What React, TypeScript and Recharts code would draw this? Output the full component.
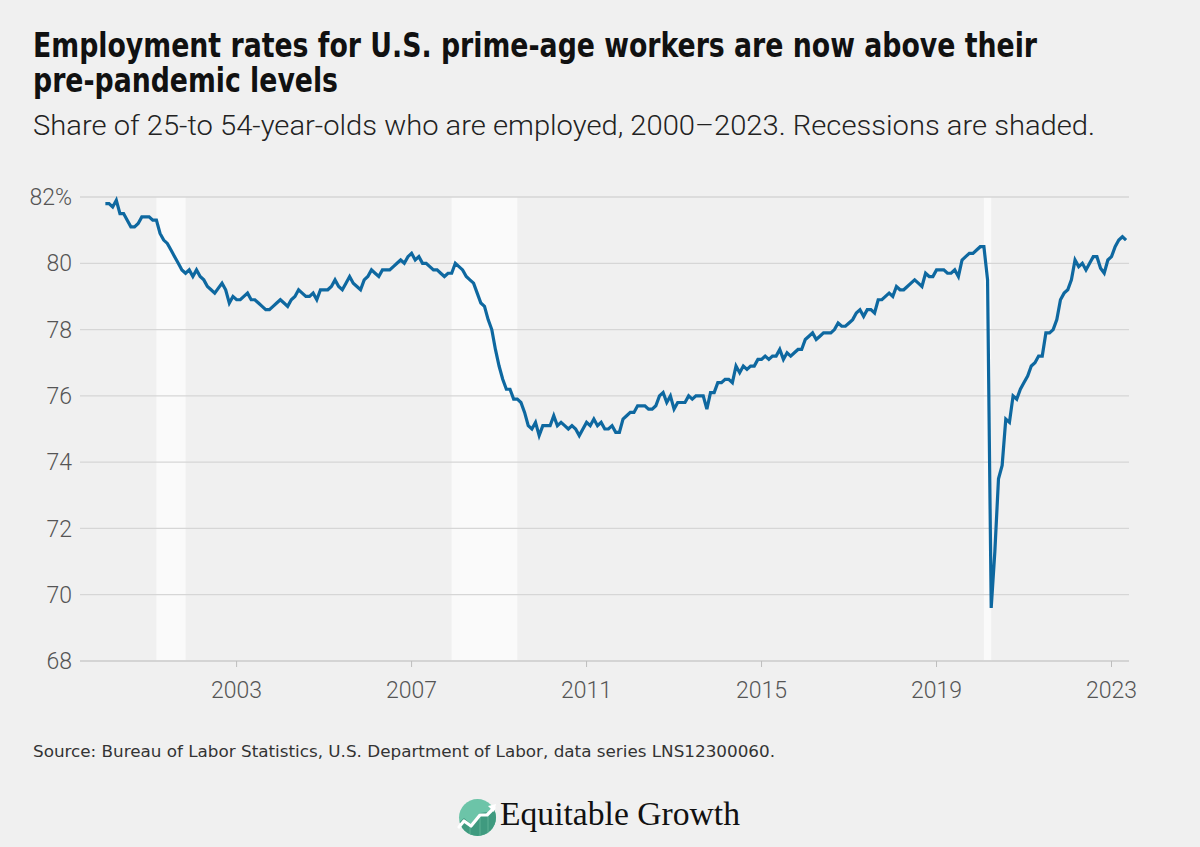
import React from "react";
import {
  LineChart,
  Line,
  XAxis,
  YAxis,
  CartesianGrid,
  ReferenceArea,
} from "recharts";

// Monthly share of 25-54 year olds employed (%)
const y2000 = [81.8, 81.8, 81.7, 81.9, 81.5, 81.5, 81.3, 81.1, 81.1, 81.2, 81.4, 81.4];
const y2001 = [81.4, 81.3, 81.3, 80.9, 80.7, 80.6, 80.4, 80.2, 80.0, 79.8, 79.7, 79.8];
const y2002 = [79.6, 79.8, 79.6, 79.5, 79.3, 79.2, 79.1, 79.25, 79.4, 79.2, 78.8, 79.0];
const y2003 = [78.9, 78.9, 79.0, 79.1, 78.9, 78.9, 78.8, 78.7, 78.6, 78.6, 78.7, 78.8];
const y2004 = [78.9, 78.8, 78.7, 78.9, 79.0, 79.2, 79.1, 79.0, 79.0, 79.1, 78.9, 79.2];
const y2005 = [79.2, 79.2, 79.3, 79.5, 79.3, 79.2, 79.4, 79.6, 79.4, 79.3, 79.2, 79.5];
const y2006 = [79.6, 79.8, 79.7, 79.6, 79.8, 79.8, 79.8, 79.9, 80.0, 80.1, 80.0, 80.2];
const y2007 = [80.3, 80.1, 80.2, 80.0, 80.0, 79.9, 79.8, 79.8, 79.7, 79.6, 79.7, 79.7];
const y2008 = [80.0, 79.9, 79.8, 79.6, 79.5, 79.4, 79.1, 78.8, 78.7, 78.3, 78.0, 77.4];
const y2009 = [76.9, 76.5, 76.2, 76.2, 75.9, 75.9, 75.8, 75.5, 75.1, 75.0, 75.2, 74.8];
const y2010 = [75.1, 75.1, 75.1, 75.4, 75.1, 75.2, 75.1, 75.0, 75.1, 75.0, 74.8, 75.0];
const y2011 = [75.2, 75.1, 75.3, 75.1, 75.2, 75.0, 75.0, 75.1, 74.9, 74.9, 75.3, 75.4];
const y2012 = [75.5, 75.5, 75.7, 75.7, 75.7, 75.6, 75.6, 75.7, 76.0, 76.1, 75.8, 76.0];
const y2013 = [75.6, 75.8, 75.8, 75.8, 76.0, 75.9, 76.0, 76.0, 76.0, 75.6, 76.1, 76.1];
const y2014 = [76.4, 76.4, 76.5, 76.5, 76.4, 76.9, 76.7, 76.9, 76.8, 76.9, 76.9, 77.1];
const y2015 = [77.1, 77.2, 77.1, 77.2, 77.2, 77.4, 77.1, 77.3, 77.2, 77.3, 77.4, 77.4];
const y2016 = [77.7, 77.8, 77.9, 77.7, 77.8, 77.9, 77.9, 77.9, 78.0, 78.2, 78.1, 78.1];
const y2017 = [78.2, 78.3, 78.5, 78.6, 78.4, 78.6, 78.6, 78.5, 78.9, 78.9, 79.0, 79.1];
const y2018 = [79.0, 79.3, 79.2, 79.2, 79.3, 79.4, 79.5, 79.4, 79.3, 79.7, 79.6, 79.6];
const y2019 = [79.8, 79.8, 79.8, 79.7, 79.7, 79.8, 79.6, 80.1, 80.2, 80.3, 80.3, 80.4];
const y2020 = [80.5, 80.5, 79.5, 69.6, 71.3, 73.5, 73.9, 75.3, 75.2, 76.0, 75.9, 76.2];
const y2021 = [76.4, 76.6, 76.9, 77.0, 77.2, 77.2, 77.9, 77.9, 78.0, 78.3, 78.9, 79.1];
const y2022 = [79.2, 79.5, 80.1, 79.9, 80.0, 79.8, 80.0, 80.2, 80.2, 79.85, 79.7, 80.1];
const y2023 = [80.2, 80.5, 80.7, 80.8, 80.7];

const yearSeries = [
  y2000, y2001, y2002, y2003, y2004, y2005, y2006, y2007, y2008, y2009, y2010, y2011,
  y2012, y2013, y2014, y2015, y2016, y2017, y2018, y2019, y2020, y2021, y2022, y2023,
];
const firstYear = 2000;

// Recessions (start, end) as fractional years
const recessions = [
  [2001 + 2 / 12, 2001 + 10 / 12],
  [2007 + 11 / 12, 2009 + 5 / 12],
  [2020 + 1 / 12, 2020 + 3 / 12],
];

const xTicks = [2003, 2007, 2011, 2015, 2019, 2023];
const yTicks = [68, 70, 72, 74, 76, 78, 80, 82];

const data = yearSeries.flatMap((arr, yi) =>
  arr.map((v, m) => ({ t: firstYear + yi + m / 12, v }))
);

const tickStyle = {
  fill: "#555",
  fontSize: 23,
  fontFamily: "Roboto, 'DejaVu Sans Condensed', sans-serif",
  fontWeight: 300,
};

function Logo() {
  return (
    <g>
      <defs>
        <clipPath id="logoClip">
          <circle cx={477.5} cy={817.5} r={18.5} />
        </clipPath>
      </defs>
      <circle cx={477.5} cy={817.5} r={18.5} fill="#6cc4a8" />
      <g clipPath="url(#logoClip)">
        <polygon
          points="455,826 464,818 471,824 480,813 488,812 500,804 500,840 455,840"
          fill="#3f9a7f"
        />
        <line x1={470} y1={824} x2={470} y2={840} stroke="#5fb296" strokeWidth={1} />
        <line x1={480} y1={815} x2={480} y2={840} stroke="#5fb296" strokeWidth={1} />
        <line x1={488} y1={813} x2={488} y2={840} stroke="#5fb296" strokeWidth={1} />
      </g>
      <polyline
        points="459,827 464,821 471,826 480,815 487,815 494,808"
        fill="none"
        stroke="#fff"
        strokeWidth={3.2}
        strokeLinejoin="round"
        strokeLinecap="round"
      />
      <polygon points="496,804 488,806 494,812" fill="#fff" />
    </g>
  );
}

export default function App() {
  return (
    <div
      style={{
        position: "absolute",
        left: 0,
        top: 0,
        width: 1200,
        height: 847,
        background: "#f0f0f0",
        overflow: "hidden",
      }}
    >
      <div style={{ position: "absolute", left: 0, top: 0 }}>
        <LineChart
          width={1200}
          height={720}
          data={data}
          margin={{ top: 197, right: 71, left: 10, bottom: 19 }}
        >
          {recessions.map(([a, b], i) => (
            <ReferenceArea
              key={i}
              x1={a}
              x2={b}
              y1={68}
              y2={82}
              fill="#fafafa"
              fillOpacity={1}
              stroke="none"
              ifOverflow="hidden"
              zIndex={-300}
            />
          ))}
          <CartesianGrid vertical={false} stroke="#d6d6d6" strokeWidth={1.3} zIndex={-100} />
          <XAxis
            dataKey="t"
            type="number"
            domain={[1999.42, 2023.4]}
            ticks={xTicks}
            allowDataOverflow
            height={40}
            axisLine={{ stroke: "#d2d2d2", strokeWidth: 1.3 }}
            tickLine={{ stroke: "#bdbdbd" }}
            tickSize={6}
            tickMargin={15}
            tick={tickStyle}
            tickFormatter={(v: number) => String(v)}
          />
          <YAxis
            type="number"
            domain={[68, 82]}
            ticks={yTicks}
            width={70}
            axisLine={false}
            tickLine={false}
            tickSize={0}
            tickMargin={8}
            tick={tickStyle}
            tickFormatter={(v: number) => (v === 82 ? "82%" : String(v))}
          />
          <Line
            type="linear"
            dataKey="v"
            stroke="#0e68a0"
            strokeWidth={3.2}
            dot={false}
            isAnimationActive={false}
          />
        </LineChart>
      </div>
      <svg
        width={1200}
        height={847}
        style={{ position: "absolute", left: 0, top: 0, pointerEvents: "none" }}
      >
        <text
          x={33}
          y={56.5}
          fontSize={33}
          fontWeight={700}
          fontFamily="'Liberation Sans Narrow', 'DejaVu Sans Condensed', sans-serif"
          fill="#111"
          textLength={1004}
          lengthAdjust="spacingAndGlyphs"
        >
          Employment rates for U.S. prime-age workers are now above their
        </text>
        <text
          x={33}
          y={91.7}
          fontSize={33}
          fontWeight={700}
          fontFamily="'Liberation Sans Narrow', 'DejaVu Sans Condensed', sans-serif"
          fill="#111"
          textLength={305}
          lengthAdjust="spacingAndGlyphs"
        >
          pre-pandemic levels
        </text>
        <text
          x={33}
          y={135}
          fontSize={28}
          fontWeight={300}
          fontFamily="Roboto, 'DejaVu Sans Condensed', sans-serif"
          fill="#222"
          textLength={1062}
          lengthAdjust="spacingAndGlyphs"
        >
          Share of 25-to 54-year-olds who are employed, 2000–2023. Recessions are shaded.
        </text>
        <text
          x={33}
          y={756.7}
          fontSize={16}
          fontFamily="'DejaVu Sans Condensed', 'Liberation Sans Narrow', sans-serif"
          fill="#333"
          textLength={742}
          lengthAdjust="spacingAndGlyphs"
        >
          Source: Bureau of Labor Statistics, U.S. Department of Labor, data series LNS12300060.
        </text>
        <Logo />
        <text
          x={500}
          y={825}
          fontSize={33}
          fontFamily="'Liberation Serif', 'DejaVu Serif', serif"
          fill="#111"
          textLength={240}
          lengthAdjust="spacingAndGlyphs"
        >
          Equitable Growth
        </text>
      </svg>
    </div>
  );
}
